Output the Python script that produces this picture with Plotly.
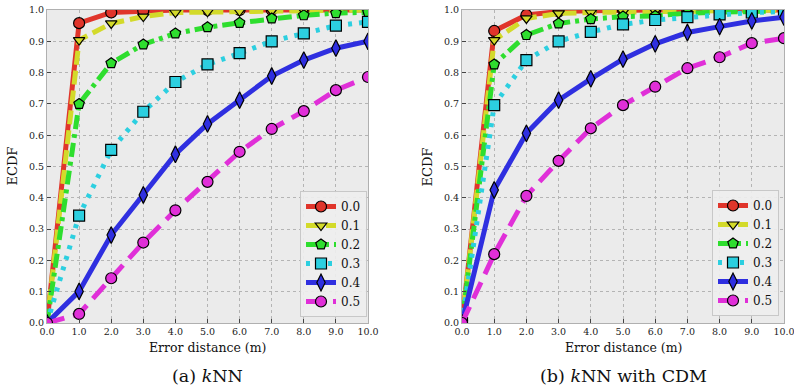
import plotly.graph_objects as go

# ---------------- data ----------------
x_err = [0, 1, 2, 3, 4, 5, 6, 7, 8, 9, 10]
x_ticklabels = ["0.0", "1.0", "2.0", "3.0", "4.0", "5.0", "6.0", "7.0", "8.0", "9.0", "10.0"]
y_ticks = [0.0, 0.1, 0.2, 0.3, 0.4, 0.5, 0.6, 0.7, 0.8, 0.9, 1.0]
series_names = ["0.0", "0.1", "0.2", "0.3", "0.4", "0.5"]

knn_00 = [0, 0.958, 0.992, 0.998, 1.0, 1.0, 1.0, 1.0, 1.0, 1.0, 1.0]
knn_01 = [0, 0.904, 0.957, 0.979, 0.992, 0.994, 0.996, 0.997, 0.998, 0.999, 1.0]
knn_02 = [0, 0.700, 0.830, 0.890, 0.925, 0.945, 0.959, 0.973, 0.983, 0.990, 0.993]
knn_03 = [0, 0.343, 0.553, 0.675, 0.770, 0.826, 0.862, 0.900, 0.925, 0.950, 0.962]
knn_04 = [0, 0.101, 0.281, 0.409, 0.539, 0.636, 0.712, 0.789, 0.840, 0.878, 0.900]
knn_05 = [0, 0.029, 0.143, 0.257, 0.360, 0.451, 0.547, 0.620, 0.677, 0.744, 0.786]

cdm_00 = [0, 0.933, 0.984, 0.995, 0.998, 1.0, 1.0, 1.0, 1.0, 1.0, 1.0]
cdm_01 = [0, 0.904, 0.973, 0.989, 0.992, 0.994, 0.996, 0.997, 0.998, 0.999, 1.0]
cdm_02 = [0, 0.826, 0.920, 0.957, 0.971, 0.979, 0.981, 0.990, 0.993, 0.995, 0.997]
cdm_03 = [0, 0.696, 0.840, 0.900, 0.930, 0.954, 0.968, 0.977, 0.986, 0.992, 0.995]
cdm_04 = [0, 0.425, 0.606, 0.712, 0.780, 0.843, 0.892, 0.928, 0.947, 0.965, 0.977]
cdm_05 = [0, 0.220, 0.406, 0.518, 0.622, 0.696, 0.755, 0.814, 0.849, 0.894, 0.910]

knn_series = [knn_00, knn_01, knn_02, knn_03, knn_04, knn_05]
cdm_series = [cdm_00, cdm_01, cdm_02, cdm_03, cdm_04, cdm_05]

# ---------------- styles ----------------
colors = ["#e0352b", "#d3da2a", "#2ede2e", "#2ccfe0", "#2f2fe0", "#e02fd8"]
dashes = ["solid", "14px,6px", "14px,5px,4px,5px", "4px,7px", "solid", "18px,9px"]
symbols = ["circle", "triangle-down", "pentagon", "square", "diamond-tall", "circle"]
msizes = [11, 10, 11, 11, 12, 11]

W, H = 794, 389
FONT = "DejaVu Serif"

def px_x(p):
    return p / W

def px_y(p):
    return 1 - p / H

fig = go.Figure()

panels = [
    ("x", "y", knn_series, "legend", (47, 368)),
    ("x2", "y2", cdm_series, "legend2", (462, 784)),
]

for xa, ya, data, leg, _ in panels:
    for i, vals in enumerate(data):
        fig.add_trace(go.Scatter(
            x=x_err, y=vals, xaxis=xa, yaxis=ya,
            name=series_names[i], legend=leg,
            mode="lines+markers",
            line=dict(color=colors[i], width=5, dash=dashes[i]),
            marker=dict(symbol=symbols[i], size=msizes[i], color=colors[i],
                        line=dict(color="black", width=1.2)),
        ))

axis_common = dict(
    showgrid=True, gridcolor="#b4b4b4", griddash="dot", gridwidth=1,
    showline=True, linecolor="#b0b0b0", linewidth=1, mirror=True,
    ticks="inside", ticklen=4, tickcolor="#444", tickwidth=1,
    zeroline=False, automargin=False, ticklabeloverflow="allow",
    tickfont=dict(family=FONT, size=9.5, color="#222"),
)

top_px, bot_px = 10, 323
fig.update_layout(
    width=W, height=H,
    margin=dict(l=0, r=0, t=0, b=0, pad=0, autoexpand=False),
    paper_bgcolor="white",
    plot_bgcolor="#ebebeb",
    font=dict(family=FONT, color="#111"),
    xaxis=dict(domain=[px_x(47), px_x(368)], anchor="y", range=[0, 10],
               tickvals=x_err, ticktext=x_ticklabels, **axis_common),
    yaxis=dict(domain=[px_y(bot_px), px_y(top_px)], anchor="x", range=[0, 1],
               tickvals=y_ticks, tickformat=".1f", **axis_common),
    xaxis2=dict(domain=[px_x(462), px_x(784)], anchor="y2", range=[0, 10],
                tickvals=x_err, ticktext=x_ticklabels, **axis_common),
    yaxis2=dict(domain=[px_y(bot_px), px_y(top_px)], anchor="x2", range=[0, 1],
                tickvals=y_ticks, tickformat=".1f", **axis_common),
    legend=dict(x=px_x(367), y=px_y(317), xanchor="right", yanchor="bottom",
                bgcolor="rgba(238,238,238,0.9)", bordercolor="#c8c8c8", borderwidth=1,
                font=dict(family=FONT, size=12, color="#111"),
                tracegroupgap=0, itemwidth=30),
    legend2=dict(x=px_x(779), y=px_y(316), xanchor="right", yanchor="bottom",
                 bgcolor="rgba(238,238,238,0.9)", bordercolor="#c8c8c8", borderwidth=1,
                 font=dict(family=FONT, size=12, color="#111"),
                 tracegroupgap=0, itemwidth=30),
    showlegend=True,
)

annotations = []
for (_, _, _, _, (x0, x1)), cap in zip(panels, ["(a) <i>k</i>NN", "(b) <i>k</i>NN with CDM"]):
    cx = (x0 + x1) / 2
    annotations.append(dict(text="Error distance (m)", x=px_x(cx), y=px_y(347),
                            xref="paper", yref="paper", showarrow=False,
                            xanchor="center", yanchor="middle",
                            font=dict(family=FONT, size=12.5, color="#111")))
    annotations.append(dict(text=cap, x=px_x(cx), y=px_y(376),
                            xref="paper", yref="paper", showarrow=False,
                            xanchor="center", yanchor="middle",
                            font=dict(family=FONT, size=17.5, color="#111")))
    annotations.append(dict(text="ECDF", x=px_x(x0 - 35), y=px_y((top_px + bot_px) / 2),
                            xref="paper", yref="paper", showarrow=False, textangle=-90,
                            xanchor="center", yanchor="middle",
                            font=dict(family=FONT, size=13, color="#111")))
fig.update_layout(annotations=annotations)

fig.write_html("out.html")
